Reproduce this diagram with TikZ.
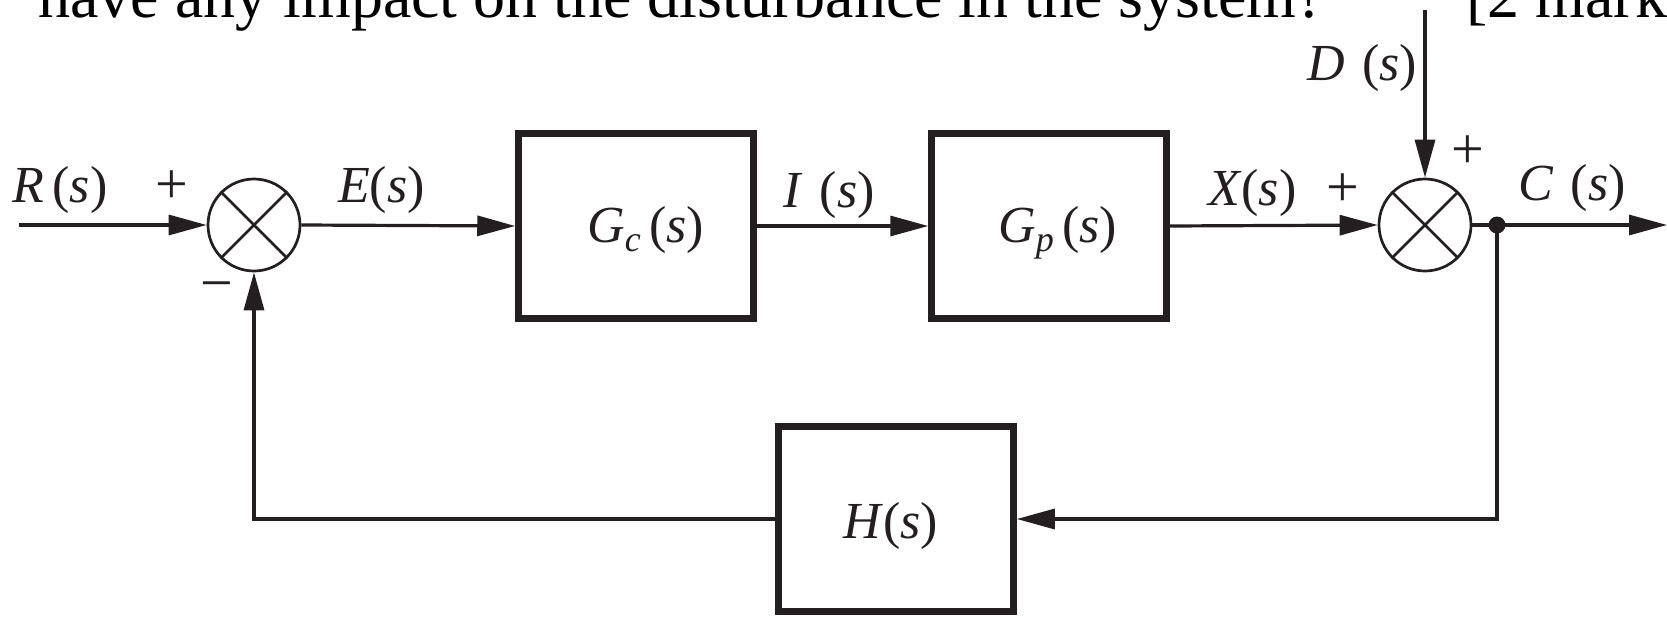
\documentclass[tikz,border=0pt]{standalone}
\usepackage{fontspec}
\setmainfont{Liberation Serif}
\usetikzlibrary{arrows.meta}
\definecolor{ink}{RGB}{35,31,32}
\newcommand{\sv}{(\textit{s})}
\begin{document}
\begin{tikzpicture}[x=1pt,y=-1pt,
  lab/.style={anchor=base west,inner sep=0pt,text=ink,font=\fontsize{52}{56}\selectfont},
  sgn/.style={inner sep=0pt,text=ink,font=\fontsize{58}{60}\selectfont},
  top/.style={anchor=base west,inner sep=0pt,text=black,font=\fontsize{64}{68}\selectfont},
  block/.style={draw=ink,line width=6.5pt,minimum width=235pt,minimum height=185pt,inner sep=0pt,text=ink,font=\fontsize{52}{56}\selectfont},
  sumc/.style={circle,draw=ink,line width=2.7pt,minimum size=92pt,inner sep=0pt},
  wire/.style={draw=ink,line width=3.2pt},
  arr/.style={wire,-{Triangle[length=38pt,width=20pt]}},
]
\clip (0,0) rectangle (1667,616);
\fill[white] (0,0) rectangle (1667,616);

% top question text (cut at the top edge)
\node[top] (q) at (38,17) {have any impact on the disturbance in the system?};
\node[top] (mk) at (1466,17) {[2 marks]};

% blocks
\node[sumc] (s1) at (254,225) {};
\node[block] (gc) at (636,226) {};
\node[block] (gp) at (1049,226) {};
\node[sumc] (s2) at (1425,225) {};
\node[block] (h) at (896,519) {};
\node[circle,fill=ink,minimum size=17pt,inner sep=0pt] (dot) at (1497,225) {};

% crosses in summing junctions
\foreach \s in {s1,s2}{
  \draw[ink,line width=2.7pt] (\s.45) -- (\s.225);
  \draw[ink,line width=2.7pt] (\s.135) -- (\s.315);
}

% free ends
\coordinate (rin) at (19,225);
\coordinate (dtop) at (1425,10);
\coordinate (cout) at (1667,225);

% connectors
\draw[arr] (rin) -- (s1.west);
\draw[arr] (s1.east) -- (gc.west);
\draw[arr] (gc.east) -- (gp.west);
\draw[arr] (gp.east) -- (s2.west);
\draw[arr] (dtop) -- (s2.north);
\draw[wire] (s2.east) -- (dot.center);
\draw[arr] (dot.center) -- (cout);
\draw[arr] (dot.center) |- (h.east);
\draw[arr] (h.west) -| (s1.south);

% block labels
\node[lab] (gcl) at (587,242) {\textit{G}{\fontsize{36}{36}\selectfont\raisebox{-9pt}{\textit{c}}}\,\sv};
\node[lab] (gpl) at (998,242) {\textit{G}{\fontsize{36}{36}\selectfont\raisebox{-9pt}{\textit{p}}}\,\sv};
\node[lab] (hl) at (843,538) {\textit{H}\sv};

% signal labels
\node[lab] (rl) at (12,202) {\textit{R}\,\sv};
\node[lab] (el) at (338,202) {\textit{E}\sv};
\node[lab] (il) at (783,207) {\textit{I}\,\,\sv};
\node[lab] (xl) at (1208,205) {\textit{X}\sv};
\node[lab] (cl) at (1518,200) {\textit{C}\,\,\sv};
\node[lab] (dl) at (1307,80) {\textit{D}\,\,\sv};

% signs
\node[sgn] (p1) at (172,187) {+};
\node[sgn] (m1) at (217,292) {−};
\node[sgn] (p2) at (1343,190) {+};
\node[sgn] (p3) at (1468,152) {+};
\end{tikzpicture}
\end{document}
